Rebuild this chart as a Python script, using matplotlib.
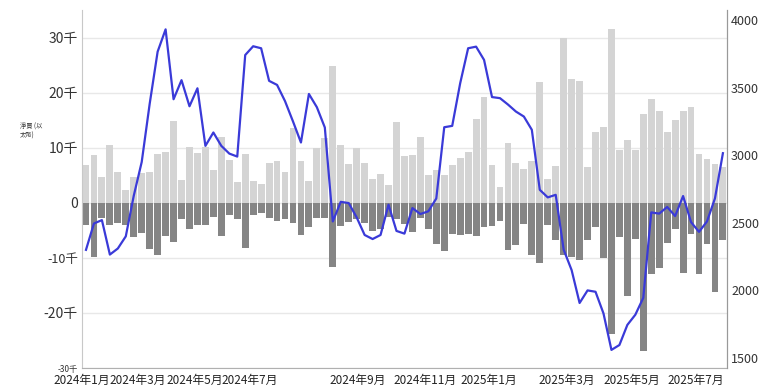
import matplotlib.pyplot as plt
import numpy as np

plt.rcParams['font.family'] = ['Noto Sans CJK TC', 'DejaVu Sans']

# weekly net buy / sell volume, thousands of ETH
buy_k = [6.8, 8.6, 4.7, 10.4, 5.6, 2.3, 4.7, 5.4, 5.6, 8.9,
         9.2, 14.9, 4.1, 10.1, 9.0, 10.1, 6.0, 11.9, 7.8, 3.8,
         8.8, 4.0, 3.5, 7.3, 7.5, 5.5, 13.6, 7.5, 4.0, 9.9,
         11.7, 24.9, 10.5, 7.0, 10.0, 7.3, 4.4, 5.3, 3.2, 14.7,
         8.5, 8.7, 12.0, 5.0, 5.9, 5.0, 6.9, 8.1, 9.3, 15.2,
         19.2, 6.8, 2.9, 10.8, 7.2, 6.2, 7.5, 21.9, 4.4, 6.6,
         29.9, 22.4, 22.2, 6.5, 12.8, 13.8, 31.5, 9.6, 11.4, 9.5,
         16.1, 18.8, 16.6, 12.9, 15.1, 16.7, 17.4, 8.8, 7.9, 7.0,
         6.5]
sell_k = [-4.0, -9.9, -2.7, -4.1, -3.6, -4.0, -6.2, -5.5, -8.4, -9.5,
          -6.0, -7.1, -3.0, -4.7, -4.0, -4.1, -2.5, -6.0, -2.2, -3.0,
          -8.2, -2.2, -1.8, -2.7, -3.3, -3.0, -3.6, -5.8, -4.4, -2.8,
          -2.8, -11.7, -4.2, -3.5, -3.0, -3.6, -5.1, -4.8, -2.5, -3.0,
          -3.8, -5.3, -2.8, -4.7, -7.4, -8.7, -5.6, -5.8, -5.6, -6.0,
          -4.4, -4.2, -3.3, -8.6, -7.6, -3.8, -9.5, -11.0, -4.1, -6.8,
          -9.5, -9.8, -10.4, -6.8, -4.4, -10.1, -23.8, -6.2, -17.0, -6.5,
          -26.9, -13.0, -11.8, -7.3, -4.7, -12.7, -5.6, -13.0, -7.5, -16.2,
          -6.8]
# ETH price (right axis)
price = [2300, 2495, 2520, 2265, 2310, 2400, 2700, 2950, 3380, 3766,
         3931, 3414, 3555, 3362, 3495, 3069, 3168, 3069, 3012, 2990,
         3741, 3806, 3791, 3550, 3520, 3400, 3250, 3094, 3453, 3355,
         3205, 2510, 2655, 2646, 2540, 2410, 2380, 2410, 2634, 2440,
         2420, 2609, 2565, 2585, 2680, 3207, 3217, 3532, 3791, 3803,
         3705, 3430, 3422, 3375, 3323, 3286, 3188, 2744, 2688, 2707,
         2301, 2150, 1907, 2000, 1990, 1830, 1560, 1596, 1745, 1820,
         1945, 2577, 2568, 2617, 2550, 2698, 2505, 2433, 2510, 2680,
         3015]

month_labels = ['2024年1月', '2024年3月', '2024年5月', '2024年7月', '2024年9月',
                '2024年11月', '2025年1月', '2025年3月', '2025年5月', '2025年7月']
month_pos = [-0.5, 6.5, 13.6, 20.6, 34.1, 42.6, 50.6, 60.4, 68.6, 76.6]

left_ticks = [-30, -20, -10, 0, 10, 20, 30]
left_labels = ['-30千', '-20千', '-10千', '0', '10千', '20千', '30千']
right_ticks = [1500, 2000, 2500, 3000, 3500, 4000]

x = np.arange(len(buy_k))

fig = plt.figure(figsize=(7.7, 3.91), dpi=100)
ax = fig.add_axes([0.1065, 0.0588, 0.8375, 0.9156])

ax.bar(x, buy_k, width=0.86, color='#d4d4d4', zorder=2)
ax.bar(x, sell_k, width=0.86, color='#858585', zorder=2)

ax.set_xlim(-0.5, len(x) - 0.5)
ax.set_ylim(-30, 35)
ax.set_yticks(left_ticks)
ax.set_yticklabels(left_labels)
ax.grid(axis='y', color='#e8e8e8', linewidth=1, zorder=0)
ax.tick_params(axis='y', length=0, pad=3, labelsize=10, labelcolor='#333333')
for lab in ax.get_yticklabels():
    if lab.get_text() == '-30千':
        lab.set_fontsize(6)
    elif lab.get_text() == '-10千':
        lab.set_fontsize(9)

ax.set_xticks(month_pos)
ax.set_xticklabels(month_labels)
ax.tick_params(axis='x', length=0, pad=4, labelsize=8.5, labelcolor='#222222')

for side in ['top']:
    ax.spines[side].set_visible(False)
ax.spines['left'].set_color('#c8c8c8')
ax.spines['bottom'].set_color('#b0b0b0')
ax.spines['right'].set_color('#999999')

fig.text(0.026, 0.665, '淨買 (以\n太幣)', fontsize=4.5, color='#333333',
         ha='left', va='center', linespacing=1.1)

ax2 = ax.twinx()
ax2.plot(x, price, color='#3a3ad8', linewidth=1.6, zorder=3)
ax2.set_ylim(1426, 4074)
ax2.set_yticks(right_ticks)
ax2.tick_params(axis='y', length=0, pad=3, labelsize=9, labelcolor='#333333')
ax2.spines['top'].set_visible(False)
ax2.spines['right'].set_color('#999999')
ax2.spines['left'].set_visible(False)
ax2.spines['bottom'].set_visible(False)

fig.savefig('out.png', dpi=100)
